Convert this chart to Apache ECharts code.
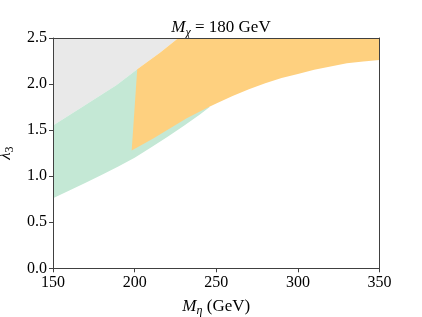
<!DOCTYPE html>
<html><head><meta charset="utf-8">
<script src="https://cdn.jsdelivr.net/npm/echarts@6/dist/echarts.min.js"></script>
<style>html,body{margin:0;padding:0;background:#fff}#c{width:422px;height:317px}</style>
</head><body><div id="c"></div>
<script>
// Tick labels
const xTicks = [150, 200, 250, 300, 350];
const yTicks = [0.0, 0.5, 1.0, 1.5, 2.0, 2.5];

// Gray excluded region (upper-left): lower boundary M_eta, lambda3
const grayEdgeX = [150, 168.6, 189, 201.6, 215.5, 226.8];
const grayEdgeY = [1.55, 1.76, 1.99, 2.16, 2.34, 2.5];

// Green region lower boundary
const greenLowX = [150, 160, 170, 180, 190, 200, 210, 220, 230, 240, 246];
const greenLowY = [0.76, 0.845, 0.93, 1.015, 1.105, 1.20, 1.31, 1.425, 1.545, 1.67, 1.75];

// Orange region: lower edge (left part) and lower curve (right part)
const orangeEdgeX = [198.2, 211.4, 231.9, 244.2];
const orangeEdgeY = [1.28, 1.41, 1.63, 1.74];
const orangeCurveX = [244.2, 250, 260, 270, 280, 290, 300, 310, 320, 330, 340, 350];
const orangeCurveY = [1.74, 1.79, 1.87, 1.945, 2.01, 2.065, 2.11, 2.155, 2.19, 2.225, 2.245, 2.26];

const zip = (xs, ys) => xs.map((x, i) => [x, ys[i]]);

const grayPoly = [[150, 2.5]].concat(zip(grayEdgeX, grayEdgeY));
const greenPoly = zip(grayEdgeX.slice(0, 4), grayEdgeY.slice(0, 4))
  .concat(zip(greenLowX, greenLowY).reverse());
const orangePoly = zip(grayEdgeX.slice(3), grayEdgeY.slice(3))
  .concat([[350, 2.5]])
  .concat(zip(orangeCurveX, orangeCurveY).reverse())
  .concat(zip(orangeEdgeX, orangeEdgeY).reverse().slice(1));

function polySeries(name, pts, color, z) {
  return {
    type: 'custom', name: name, z: z,
    data: pts,
    renderItem: function (params, api) {
      if (params.dataIndex !== 0) return null;
      const p = pts.map(d => api.coord(d));
      return { type: 'polygon', shape: { points: p }, style: { fill: color, stroke: null } };
    },
    encode: { x: 0, y: 1 },
    silent: true
  };
}

const serif = '"Liberation Serif", "DejaVu Serif", serif';
const axisCol = '#404040';
const richMath = {
  i: { fontFamily: serif, fontStyle: 'italic', fontWeight: 'normal', fontSize: 17, color: '#000', lineHeight: 22 },
  s: { fontFamily: serif, fontStyle: 'italic', fontWeight: 'normal', fontSize: 12, color: '#000', lineHeight: 12, verticalAlign: 'bottom' },
  d: { fontFamily: serif, fontStyle: 'normal', fontWeight: 'normal', fontSize: 12, color: '#000', lineHeight: 12, verticalAlign: 'bottom' },
  n: { fontFamily: serif, fontWeight: 'normal', fontSize: 17, color: '#000', lineHeight: 22 }
};

const chart = echarts.init(document.getElementById('c'), null, { renderer: 'canvas' });
chart.setOption({
  animation: false,
  title: {
    text: '{i|M}{s|χ}{n| = 180 GeV}',
    left: 216, top: 12, textAlign: 'center',
    textStyle: { fontWeight: 'normal', rich: richMath }
  },
  grid: { left: 53, right: 42.5, top: 38, bottom: 48.7, containLabel: false, outerBoundsMode: 'none' },
  xAxis: [{
    type: 'value', min: xTicks[0], max: xTicks[xTicks.length - 1], interval: 50, z: 10,
    name: '{i|M}{s|η}{n| (GeV)}', nameLocation: 'middle', nameGap: 27,
    nameTextStyle: { rich: richMath },
    axisLine: { show: true, onZero: false, lineStyle: { color: axisCol, width: 1 } },
    axisTick: { show: true, length: 4, lineStyle: { color: axisCol } },
    axisLabel: { fontFamily: serif, fontSize: 16, color: '#000', margin: 6,
      formatter: v => (xTicks.indexOf(v) >= 0 ? String(v) : '') },
    splitLine: { show: false }
  }, {
    type: 'value', position: 'top', min: 150, max: 350, z: 10,
    axisLine: { show: true, onZero: false, lineStyle: { color: axisCol, width: 1 } },
    axisTick: { show: false }, axisLabel: { show: false }, splitLine: { show: false }
  }],
  yAxis: [{
    type: 'value', min: yTicks[0], max: yTicks[yTicks.length - 1], interval: 0.5, z: 10,
    name: '{i|λ}{d|3}', nameLocation: 'middle', nameGap: 32, nameRotate: 90,
    nameTextStyle: { rich: richMath },
    axisLine: { show: true, onZero: false, lineStyle: { color: axisCol, width: 1 } },
    axisTick: { show: true, length: 4, lineStyle: { color: axisCol } },
    axisLabel: { fontFamily: serif, fontSize: 16, color: '#000', margin: 6,
      formatter: v => v.toFixed(1) },
    splitLine: { show: false }
  }, {
    type: 'value', position: 'right', min: 0, max: 2.5, z: 10,
    axisLine: { show: true, onZero: false, lineStyle: { color: axisCol, width: 1 } },
    axisTick: { show: false }, axisLabel: { show: false }, splitLine: { show: false }
  }],
  series: [
    polySeries('gray', grayPoly, '#e9e9e9', 1),
    polySeries('green', greenPoly, '#c4e8d5', 2),
    polySeries('orange', orangePoly, '#fed07f', 3)
  ]
});
</script>
</body></html>
